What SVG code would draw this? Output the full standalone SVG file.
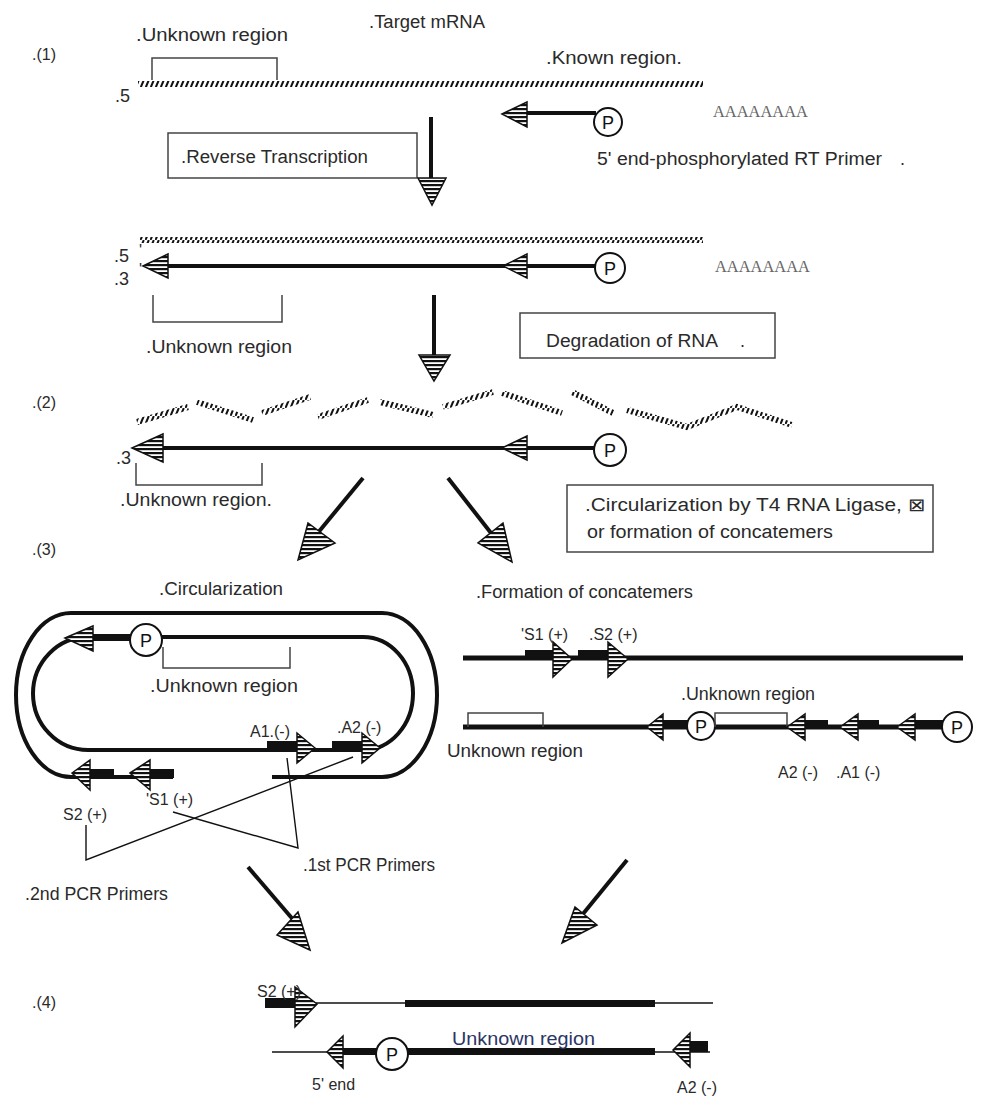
<svg xmlns="http://www.w3.org/2000/svg" width="1001" height="1101" viewBox="0 0 1001 1101">
<defs>
<pattern id="rna" patternUnits="userSpaceOnUse" width="5" height="8"><path d="M0.5,8 L3.8,0" stroke="#111" stroke-width="2"/></pattern>
<pattern id="stripe" patternUnits="userSpaceOnUse" width="6" height="4"><rect width="6" height="4" fill="#fff"/><rect width="6" height="2.2" fill="#111"/></pattern>
</defs>
<style>
.t{font-family:"Liberation Sans",Arial,sans-serif;font-size:18px;fill:#2a2a2a}
.s{font-size:16px}
.aa{font-family:"Liberation Serif","Times New Roman",serif;font-size:17px;fill:#666}
.hd{fill:url(#stripe);stroke:#111;stroke-width:1.5;stroke-linejoin:miter}
.thk{stroke:#111;stroke-width:4;fill:none}
.thn{stroke:#111;stroke-width:1.4;fill:none}
.box{fill:#fff;stroke:#444;stroke-width:1.5}
.brk{fill:none;stroke:#444;stroke-width:1.5}
.rna{stroke:url(#rna);stroke-width:6;fill:none}
.pc{fill:#fff;stroke:#111;stroke-width:2}
.pt{font-family:"Liberation Sans",Arial,sans-serif;font-size:18px;fill:#111;text-anchor:middle}
.bar{fill:#111}
</style>
<rect width="1001" height="1101" fill="#fff"/>

<!-- Section labels -->
<g id="labels">
<text class="t s" x="32" y="60">.(1)</text>
<text class="t s" x="32" y="408">.(2)</text>
<text class="t s" x="32" y="555">.(3)</text>
<text class="t s" x="32" y="1008">.(4)</text>
</g>

<!-- Step 1: target mRNA -->
<g id="target-mrna">
<text class="t" x="369" y="28" textLength="116" lengthAdjust="spacingAndGlyphs">.Target mRNA</text>
<text class="t" x="136" y="41" textLength="152" lengthAdjust="spacingAndGlyphs">.Unknown region</text>
<text class="t" x="546" y="64" textLength="136" lengthAdjust="spacingAndGlyphs">.Known region.</text>
<path class="brk" d="M152,80 V58 H277 V80"/>
<line class="rna" x1="138" y1="84" x2="703" y2="84"/>
<text class="t" x="115" y="102">.5</text>
</g>

<g id="rt-primer">
<line class="thk" x1="525" y1="113" x2="596" y2="113"/>
<polygon class="hd" points="502,114 527,102 527,127"/>
<circle class="pc" cx="608" cy="122" r="14"/>
<text class="pt" x="608" y="129">P</text>
<text class="aa" x="713" y="117" textLength="95" lengthAdjust="spacingAndGlyphs">AAAAAAAA</text>
<text class="t" x="597" y="165" textLength="285" lengthAdjust="spacingAndGlyphs">5' end-phosphorylated RT Primer</text>
<text class="t" x="900" y="165">.</text>
</g>

<g id="reverse-transcription">
<rect class="box" x="168" y="133" width="249" height="45"/>
<text class="t" x="181" y="163" textLength="187" lengthAdjust="spacingAndGlyphs">.Reverse Transcription</text>
</g>

<!-- Step 1b: hybrid -->
<g id="rna-cdna-hybrid">
<line class="rna" x1="140" y1="240" x2="703" y2="240"/>
<text class="t" x="114" y="262">.5</text>
<text class="t s" x="139" y="256">'</text>
<text class="t" x="114" y="285">.3</text>
<text class="t s" x="139" y="275">'</text>
<line class="thk" x1="160" y1="266" x2="596" y2="266"/>
<polygon class="hd" points="143,266 168,254 168,278"/>
<polygon class="hd" points="503,266 527,254 527,278"/>
<circle class="pc" cx="610" cy="268" r="15"/>
<text class="pt" x="610" y="275">P</text>
<text class="aa" x="715" y="272" textLength="95" lengthAdjust="spacingAndGlyphs">AAAAAAAA</text>
<path class="brk" d="M153,295 V322 H282 V295"/>
<text class="t" x="146" y="353" textLength="146" lengthAdjust="spacingAndGlyphs">.Unknown region</text>
</g>

<g id="degradation">
<rect class="box" x="520" y="313" width="255" height="45"/>
<text class="t" x="546" y="347" textLength="172" lengthAdjust="spacingAndGlyphs">Degradation of RNA</text>
<text class="t" x="740" y="347">.</text>
</g>

<!-- Step 2 -->
<g id="rna-fragments">
<polyline class="rna" points="137,422 188,407"/>
<polyline class="rna" points="197,402 253,420"/>
<polyline class="rna" points="262,413 310,397"/>
<polyline class="rna" points="318,417 368,400"/>
<polyline class="rna" points="380,402 433,415"/>
<polyline class="rna" points="443,407 493,392"/>
<polyline class="rna" points="502,393 562,413"/>
<polyline class="rna" points="572,392 613,413"/>
<polyline class="rna" points="627,410 687,427 737,407 792,425"/>
</g>

<g id="cdna">
<text class="t" x="116" y="464">.3</text>
<line class="thk" x1="155" y1="448" x2="596" y2="448"/>
<polygon class="hd" points="132,448 163,434 163,462"/>
<polygon class="hd" points="502,448 527,436 527,460"/>
<circle class="pc" cx="610" cy="450" r="16"/>
<text class="pt" x="610" y="457">P</text>
<path class="brk" d="M136,463 V485 H262 V463"/>
<text class="t" x="120" y="506" textLength="152" lengthAdjust="spacingAndGlyphs">.Unknown region.</text>
</g>

<g id="circularization-step">
<rect class="box" x="567" y="485" width="366" height="67"/>
<text class="t" x="585" y="511" textLength="340" lengthAdjust="spacingAndGlyphs">.Circularization by T4 RNA Ligase, ⊠</text>
<text class="t" x="587" y="538" textLength="246" lengthAdjust="spacingAndGlyphs">or formation of concatemers</text>
</g>

<!-- Step 3 left: circular -->
<g id="circular">
<text class="t" x="159" y="595" textLength="124" lengthAdjust="spacingAndGlyphs">.Circularization</text>
<path class="thk" d="M272,777 H382 A55,82 0 0 0 437,695 A55,82 0 0 0 382,613 H71 A55,82 0 0 0 16,695 A55,82 0 0 0 71,777 H173"/>
<path class="thk" d="M160,637 H363 A50,56.5 0 0 1 413,693.5 A50,56.5 0 0 1 363,750 H88 A55,56.5 0 0 1 33,693.5 A55,56.5 0 0 1 88,637"/>
<rect class="bar" x="90" y="634" width="42" height="7"/>
<polygon class="hd" points="65,638 93,626 93,651"/>
<circle class="pc" cx="146" cy="640" r="16"/>
<text class="pt" x="146" y="647">P</text>
<path class="brk" d="M163,647 V668 H290 V647"/>
<text class="t" x="150" y="692" textLength="148" lengthAdjust="spacingAndGlyphs">.Unknown region</text>
<rect class="bar" x="267" y="741" width="32" height="9"/>
<polygon class="hd" points="315,748 297,733 297,763"/>
<rect class="bar" x="332" y="741" width="32" height="9"/>
<polygon class="hd" points="380,748 362,733 362,763"/>
<text class="t s" x="250" y="737">A1.(-)</text>
<text class="t s" x="337" y="733">.A2 (-)</text>
<rect class="bar" x="88" y="769" width="26" height="9"/>
<polygon class="hd" points="72,773 90,760 90,790"/>
<rect class="bar" x="148" y="769" width="26" height="9"/>
<polygon class="hd" points="130,773 150,760 150,790"/>
<text class="t s" x="146" y="805">'S1 (+)</text>
<text class="t s" x="63" y="820">S2 (+)</text>
<text class="t" x="303" y="871" textLength="132" lengthAdjust="spacingAndGlyphs">.1st PCR Primers</text>
<text class="t" x="25" y="900" textLength="143" lengthAdjust="spacingAndGlyphs">.2nd PCR Primers</text>
</g>

<!-- Step 3 right: concatemers -->
<g id="concatemers">
<text class="t" x="476" y="598" textLength="217" lengthAdjust="spacingAndGlyphs">.Formation of concatemers</text>
<line x1="463" y1="658" x2="963" y2="658" stroke="#111" stroke-width="5"/>
<rect class="bar" x="525" y="650" width="30" height="8"/>
<polygon class="hd" points="572,659 553,642 553,677"/>
<rect class="bar" x="578" y="650" width="30" height="8"/>
<polygon class="hd" points="628,659 608,642 608,677"/>
<text class="t s" x="521" y="640">'S1 (+)</text>
<text class="t s" x="589" y="640">.S2 (+)</text>
<line x1="463" y1="727" x2="943" y2="727" stroke="#111" stroke-width="5"/>
<path class="brk" d="M468,727 V713 H543 V727"/>
<text class="t" x="447" y="757" textLength="136" lengthAdjust="spacingAndGlyphs">Unknown region</text>
<rect class="bar" x="660" y="720" width="28" height="8"/>
<polygon class="hd" points="647,727 663,714 663,740"/>
<circle class="pc" cx="701" cy="726" r="14"/>
<text class="pt" x="701" y="733">P</text>
<path class="brk" d="M715,727 V713 H787 V727"/>
<text class="t" x="681" y="700" textLength="134" lengthAdjust="spacingAndGlyphs">.Unknown region</text>
<rect class="bar" x="803" y="720" width="25" height="8"/>
<polygon class="hd" points="787,727 805,714 805,740"/>
<rect class="bar" x="856" y="720" width="23" height="8"/>
<polygon class="hd" points="840,727 858,714 858,740"/>
<rect class="bar" x="913" y="720" width="30" height="8"/>
<polygon class="hd" points="897,727 915,714 915,740"/>
<circle class="pc" cx="957" cy="727" r="15"/>
<text class="pt" x="957" y="734">P</text>
<text class="t s" x="778" y="778">A2 (-)</text>
<text class="t s" x="836" y="778">.A1 (-)</text>
</g>

<!-- Step 4 -->
<g id="pcr-product">
<line class="thn" x1="265" y1="1003" x2="713" y2="1003"/>
<rect class="bar" x="405" y="1000" width="250" height="7"/>
<rect class="bar" x="265" y="998" width="32" height="10"/>
<polygon class="hd" points="317,1004 295,987 295,1027"/>
<text class="t s" x="257" y="997">S2 (+)</text>
<line class="thn" x1="272" y1="1052" x2="710" y2="1052"/>
<rect class="bar" x="341" y="1048" width="38" height="7"/>
<polygon class="hd" points="327,1052 343,1036 343,1068"/>
<rect class="bar" x="406" y="1048" width="249" height="7"/>
<circle class="pc" cx="392" cy="1054" r="16"/>
<text class="pt" x="392" y="1061">P</text>
<rect class="bar" x="688" y="1041" width="20" height="11"/>
<polygon class="hd" points="673,1050 690,1033 690,1067"/>
<text class="t" x="452" y="1045" textLength="143" lengthAdjust="spacingAndGlyphs" style="fill:#2b3566">Unknown region</text>
<text class="t s" x="312" y="1090">5' end</text>
<text class="t s" x="677" y="1093">A2 (-)</text>
</g>

<!-- Connectors -->
<g id="connectors">
<line class="thk" x1="431" y1="117" x2="431" y2="180"/>
<polygon class="hd" points="418,178 446,178 432,205"/>
<line class="thk" x1="434" y1="295" x2="434" y2="357"/>
<polygon class="hd" points="419,355 450,355 434,381"/>
<line class="thk" x1="363" y1="478" x2="312" y2="540"/>
<polygon class="hd" points="298,560 308,523 335,543"/>
<line class="thk" x1="448" y1="478" x2="498" y2="542"/>
<polygon class="hd" points="512,562 503,523 478,543"/>
<line class="thk" x1="248" y1="867" x2="296" y2="923"/>
<polygon class="hd" points="310,950 298,912 277,935"/>
<line class="thk" x1="627" y1="860" x2="578" y2="920"/>
<polygon class="hd" points="562,943 575,907 597,925"/>
<polyline class="thn" points="86,825 86,860 353,757"/>
<polyline class="thn" points="173,812 298,848 287,758"/>
</g>
</svg>
